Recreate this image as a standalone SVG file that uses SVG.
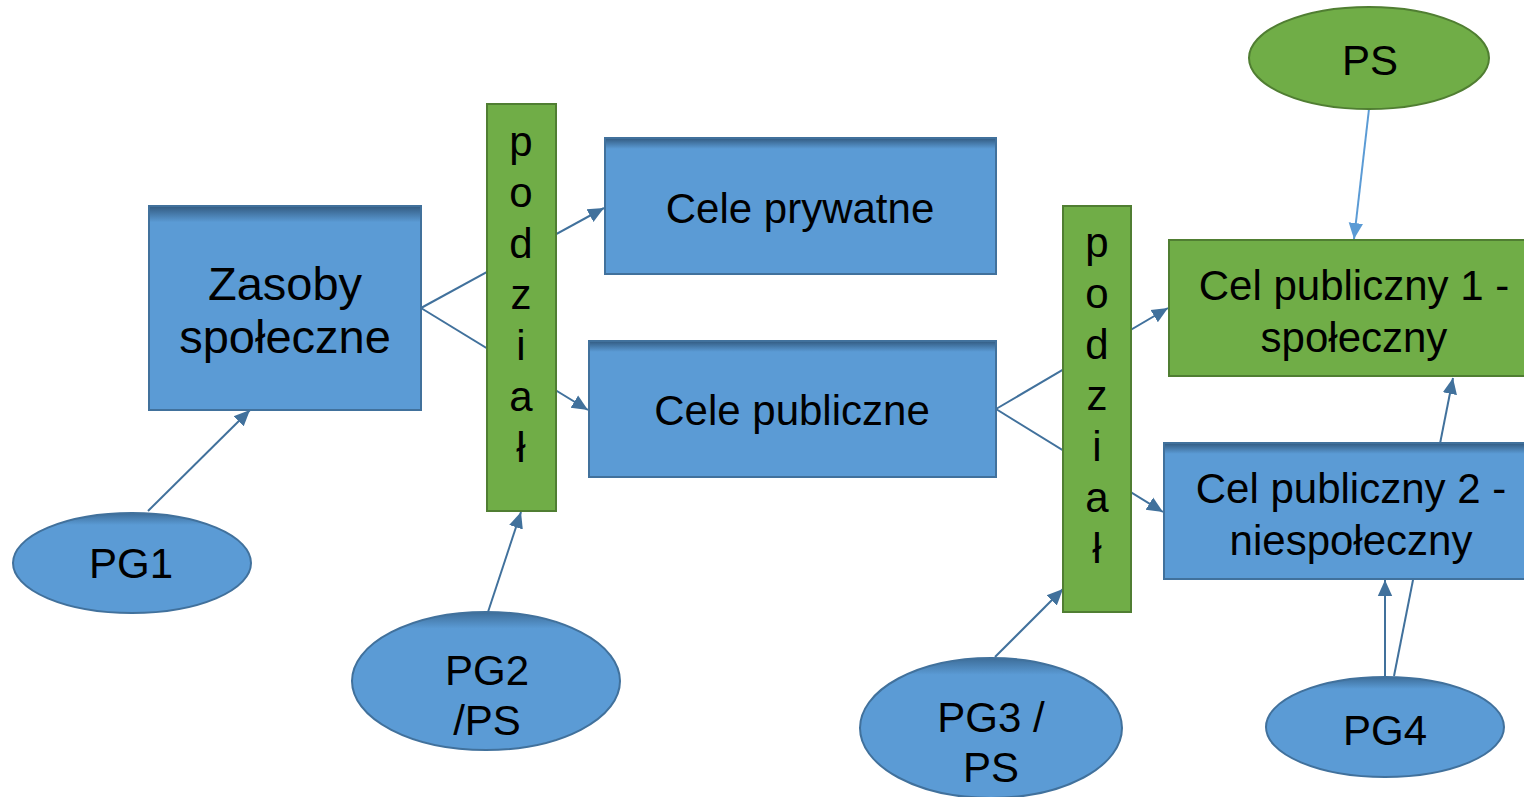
<svg xmlns="http://www.w3.org/2000/svg" width="1524" height="797" viewBox="0 0 1524 797">
<defs>
<linearGradient id="gb" x1="0" y1="0" x2="0" y2="1">
<stop offset="0" stop-color="#325a80"/>
<stop offset="0.08" stop-color="#5b9bd5"/>
<stop offset="1" stop-color="#5b9bd5"/>
</linearGradient>
<linearGradient id="ge" x1="0" y1="0" x2="0" y2="1">
<stop offset="0" stop-color="#3d6d99"/>
<stop offset="0.12" stop-color="#5b9bd5"/>
<stop offset="1" stop-color="#5b9bd5"/>
</linearGradient>
<marker id="ah" viewBox="0 0 10 10" refX="10" refY="5" markerWidth="8" markerHeight="8" orient="auto" markerUnits="strokeWidth">
<path d="M0,0.5 L10,5 L0,9.5 z" fill="#41719c"/>
</marker>
<marker id="ahl" viewBox="0 0 10 10" refX="10" refY="5" markerWidth="8" markerHeight="8" orient="auto" markerUnits="strokeWidth">
<path d="M0,0.5 L10,5 L0,9.5 z" fill="#5b9bd5"/>
</marker>
<style>
.bb{fill:url(#gb);stroke:#41719c;stroke-width:2}
.gb{fill:#70ad47;stroke:#507e32;stroke-width:2}
.be{fill:url(#ge);stroke:#41719c;stroke-width:2}
.ge{fill:#70ad47;stroke:#507e32;stroke-width:2}
text{font-family:"Liberation Sans",Arial,sans-serif;fill:#000;text-anchor:middle}
.t{font-size:42px}
.tz{font-size:47px}
.c{stroke:#41719c;stroke-width:2;fill:none}
.cl{stroke:#5b9bd5;stroke-width:2;fill:none}
</style>
</defs>
<g id="connectors">
<line class="c" x1="421" y1="308" x2="604" y2="208" marker-end="url(#ah)"/>
<line class="c" x1="421" y1="308" x2="588" y2="410" marker-end="url(#ah)"/>
<line class="c" x1="996" y1="409" x2="1168" y2="308" marker-end="url(#ah)"/>
<line class="c" x1="996" y1="409" x2="1163" y2="512" marker-end="url(#ah)"/>
<line class="c" x1="148" y1="511" x2="250" y2="410" marker-end="url(#ah)"/>
<line class="c" x1="488" y1="612" x2="521" y2="512" marker-end="url(#ah)"/>
<line class="c" x1="995" y1="657" x2="1063" y2="589" marker-end="url(#ah)"/>
<line class="c" x1="1385" y1="677" x2="1385" y2="580" marker-end="url(#ah)"/>
<line class="c" x1="1394" y1="676" x2="1453" y2="378" marker-end="url(#ah)"/>
<line class="cl" x1="1369" y1="109" x2="1354" y2="239" marker-end="url(#ahl)"/>
</g>
<g id="zasoby">
<rect class="bb" x="149" y="206" width="272" height="204"/>
<text class="tz" x="285" y="300">Zasoby</text>
<text class="tz" x="285" y="353">społeczne</text>
</g>
<g id="podzial1">
<rect class="gb" x="487" y="104" width="69" height="407"/>
<text class="t" x="521" y="156">p</text>
<text class="t" x="521" y="207">o</text>
<text class="t" x="521" y="258">d</text>
<text class="t" x="521" y="309">z</text>
<text class="t" x="521" y="360">i</text>
<text class="t" x="521" y="411">a</text>
<text class="t" x="521" y="462">ł</text>
</g>
<g id="cele-prywatne">
<rect class="bb" x="605" y="138" width="391" height="136"/>
<text class="t" x="800" y="223">Cele prywatne</text>
</g>
<g id="cele-publiczne">
<rect class="bb" x="589" y="341" width="407" height="136"/>
<text class="t" x="792" y="425">Cele publiczne</text>
</g>
<g id="podzial2">
<rect class="gb" x="1063" y="206" width="68" height="406"/>
<text class="t" x="1097" y="257">p</text>
<text class="t" x="1097" y="308">o</text>
<text class="t" x="1097" y="359">d</text>
<text class="t" x="1097" y="410">z</text>
<text class="t" x="1097" y="461">i</text>
<text class="t" x="1097" y="512">a</text>
<text class="t" x="1097" y="563">ł</text>
</g>
<g id="cel1">
<rect class="gb" x="1169" y="240" width="370" height="136"/>
<text class="t" x="1354" y="300">Cel publiczny 1 -</text>
<text class="t" x="1354" y="352">społeczny</text>
</g>
<g id="cel2">
<rect class="bb" x="1164" y="443" width="372" height="136"/>
<text class="t" x="1351" y="503">Cel publiczny 2 -</text>
<text class="t" x="1351" y="555">niespołeczny</text>
</g>
<g id="pg1">
<ellipse class="be" cx="132" cy="563" rx="119" ry="50"/>
<text class="t" x="131" y="578">PG1</text>
</g>
<g id="pg2">
<ellipse class="be" cx="486" cy="681" rx="134" ry="69"/>
<text class="t" x="487" y="685">PG2</text>
<text class="t" x="487" y="735">/PS</text>
</g>
<g id="pg3">
<ellipse class="be" cx="991" cy="728" rx="131" ry="70"/>
<text class="t" x="991" y="732">PG3 /</text>
<text class="t" x="991" y="782">PS</text>
</g>
<g id="pg4">
<ellipse class="be" cx="1385" cy="727" rx="119" ry="50"/>
<text class="t" x="1385" y="745">PG4</text>
</g>
<g id="ps">
<ellipse class="ge" cx="1369" cy="58" rx="120" ry="51"/>
<text class="t" x="1370" y="75">PS</text>
</g>
</svg>
